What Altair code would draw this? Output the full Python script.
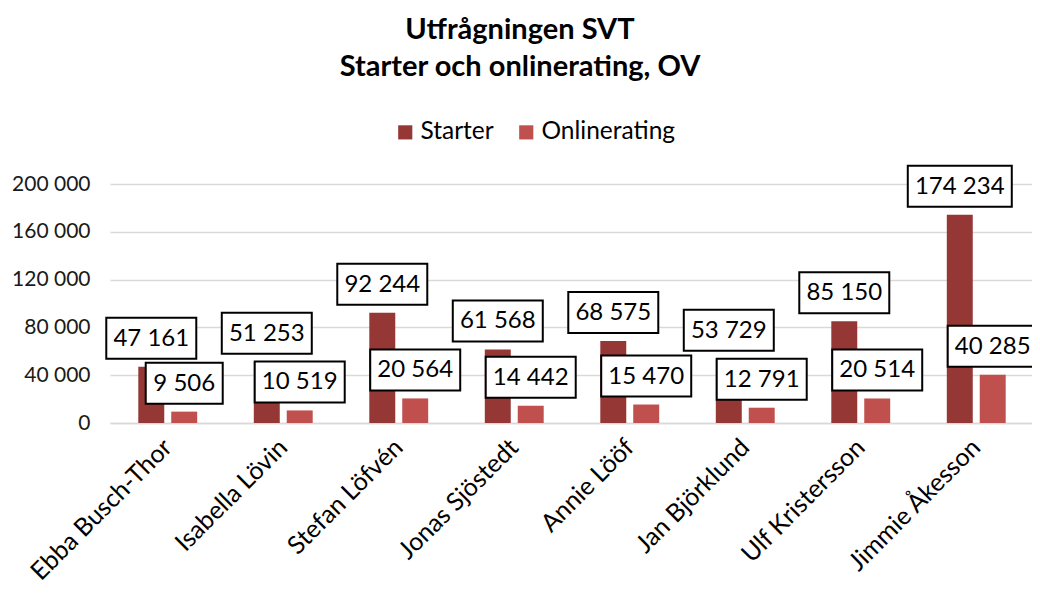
import altair as alt
import pandas as pd

names = ["Ebba Busch-Thor", "Isabella Lövin", "Stefan Löfvén", "Jonas Sjöstedt",
         "Annie Lööf", "Jan Björklund", "Ulf Kristersson", "Jimmie Åkesson"]
starter = [47161, 51253, 92244, 61568, 68575, 53729, 85150, 174234]
online = [9506, 10519, 20564, 14442, 15470, 12791, 20514, 40285]
series_names = ["Starter", "Onlinerating"]
colors = ["#953735", "#C0504D"]
y_ticks = [0, 40000, 80000, 120000, 160000, 200000]
title_lines = ["Utfrågningen SVT", "Starter och onlinerating, OV"]

rows = []
for n, s, o in zip(names, starter, online):
    for ser, v in ((series_names[0], s), (series_names[1], o)):
        lbl = f"{v:,}".replace(",", " ")
        rows.append(dict(name=n, series=ser, value=v, label=lbl, nch=len(lbl)))
df = pd.DataFrame(rows)

FONT = "Lato"
W, H = 922, 239

x_enc = alt.X("name:N", sort=names,
              scale=alt.Scale(paddingInner=0.49, paddingOuter=0.245, range=[0, 924]),
              axis=alt.Axis(title=None, labelAngle=-45, labelAlign="right",
                            labelBaseline="middle", labelFontSize=25, labelFont=FONT,
                            labelColor="#000000", labelPadding=20, ticks=False,
                            domainColor="#D9D9D9", domainWidth=1.5, labelLimit=400))
xo_enc = alt.XOffset("series:N", sort=series_names,
                     scale=alt.Scale(paddingInner=0.212, paddingOuter=0))
y_enc = alt.Y("value:Q", scale=alt.Scale(domain=[0, 200000]),
              axis=alt.Axis(title=None, values=y_ticks, grid=True, gridColor="#D9D9D9",
                            gridWidth=1.5, domain=False, ticks=False, labelPadding=20,
                            labelFontSize=21, labelFont=FONT, labelColor="#1a1a1a",
                            labelExpr="replace(format(datum.value, ','), regexp(',', 'g'), ' ')"))

base = alt.Chart(df)

bars = base.mark_bar().encode(
    x=x_enc, xOffset=xo_enc, y=y_enc,
    color=alt.Color("series:N", sort=series_names,
                    scale=alt.Scale(domain=series_names, range=colors),
                    legend=alt.Legend(title=None, orient="none", direction="horizontal",
                                      legendX=283, legendY=-64, symbolType="square",
                                      symbolSize=200, symbolStrokeWidth=0,
                                      labelFontSize=24.5, labelFont=FONT, labelColor="#000000",
                                      labelOffset=3, columnPadding=20, symbolOffset=0)),
)

box_layers = []
for nch, bw in ((5, 77), (6, 90), (7, 104)):
    box_layers.append(
        base.transform_filter(alt.datum.nch == nch).mark_bar(
            width=bw, fill="white", stroke="black", strokeWidth=2,
            yOffset=-8, y2Offset=-49).encode(
            x=alt.X("name:N", sort=names), xOffset=alt.XOffset("series:N", sort=series_names),
            y="value:Q", y2="value:Q")
    )

texts = base.mark_text(fontSize=24, font=FONT, color="black", baseline="middle",
                       yOffset=-28).encode(
    x=alt.X("name:N", sort=names), xOffset=alt.XOffset("series:N", sort=series_names),
    y="value:Q", text="label:N")

chart = alt.layer(bars, *box_layers, texts).properties(
    width=W, height=H,
    autosize=alt.AutoSizeParams(type="none"),
    padding={"left": 102, "top": 176, "right": 0, "bottom": 168},
    title=alt.TitleParams(text=title_lines, fontSize=29, font=FONT, fontWeight="bold",
                          color="#000000", anchor="middle", frame="group", dx=-51,
                          offset=38, lineHeight=37),
).configure_view(stroke=None)

chart.save("out.html", embed_options={"renderer": "svg", "actions": False})
